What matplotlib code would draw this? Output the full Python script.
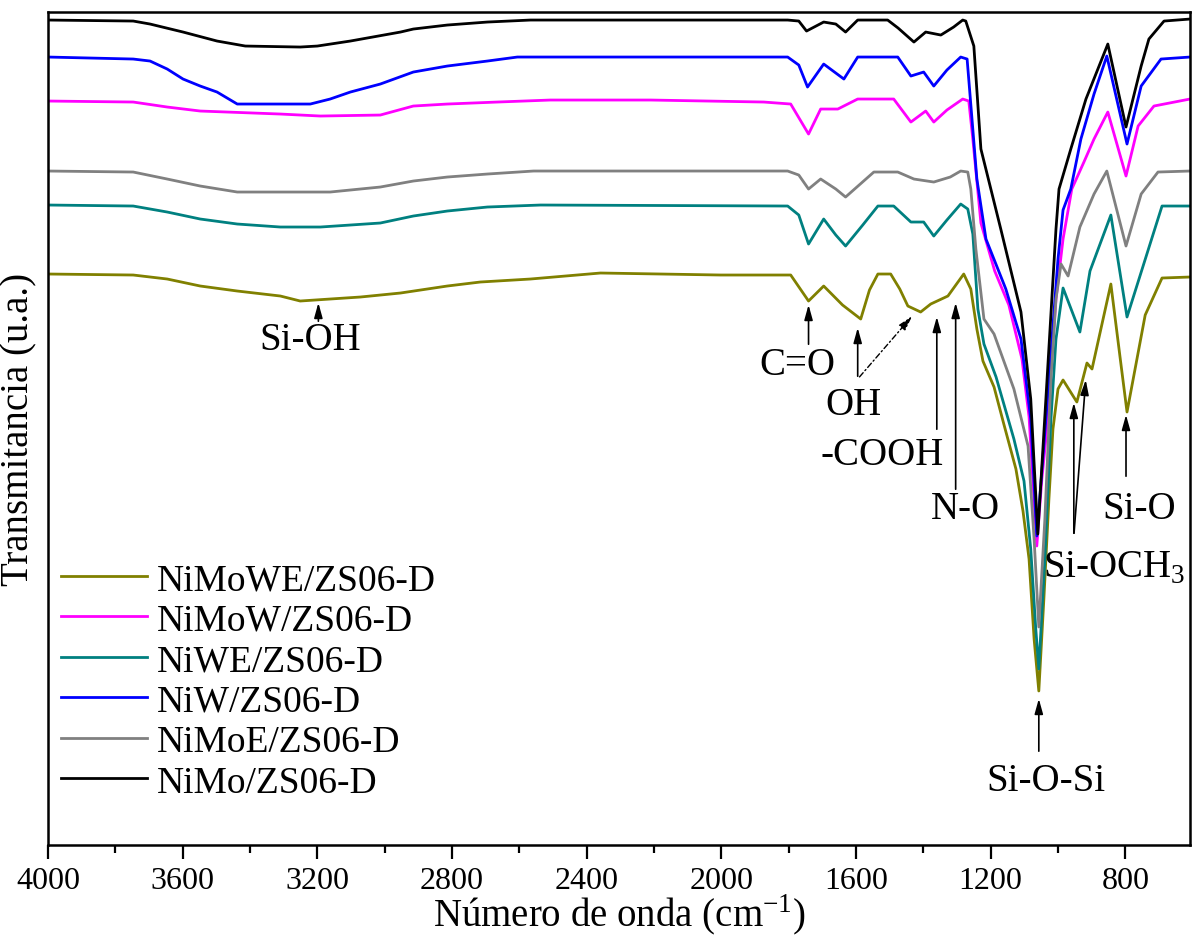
import matplotlib
matplotlib.use("Agg")
import matplotlib.pyplot as plt
from matplotlib.ticker import MultipleLocator

plt.rcParams['font.family'] = ['Liberation Serif', 'DejaVu Serif']
plt.rcParams['mathtext.fontset'] = 'custom'
plt.rcParams['mathtext.rm'] = 'Liberation Serif'

# FTIR spectra, wavenumber (cm-1) vs transmittance (offset, a.u.)
wn_nimowe = [4000, 3747, 3646, 3548, 3438, 3310, 3251, 3162, 3072, 2953, 2814, 2716, 2567, 2359, 2002,
             1794, 1741, 1696, 1640, 1586, 1560, 1535, 1497, 1470, 1446, 1408, 1378, 1327, 1280, 1259,
             1241, 1223, 1190, 1161, 1125, 1104, 1086, 1071, 1057, 1042, 1027, 1015, 1000, 985, 944,
             914, 899, 843, 815, 795, 741, 691, 608]
t_nimowe = [571, 570, 566, 559, 554, 549, 544, 546, 548, 552, 559, 563, 566, 572, 570,
            570, 544, 559, 540, 526, 555, 571, 571, 556, 539, 533, 541, 549, 571, 556,
            516, 484, 458, 421, 376, 334, 286, 206, 154, 246, 346, 416, 456, 465, 443,
            482, 476, 561, 486, 433, 530, 567, 568]

wn_nimow = [4000, 3747, 3646, 3548, 3310, 3191, 3013, 2915, 2814, 2665, 2508, 2210, 1874, 1794, 1741,
            1705, 1654, 1595, 1488, 1437, 1393, 1369, 1330, 1283, 1265, 1253, 1229, 1188, 1146, 1107,
            1086, 1075, 1063, 1048, 1036, 1006, 985, 959, 923, 893, 852, 798, 762, 715, 608]
t_nimow = [744, 743, 738, 734, 731, 729, 730, 739, 741, 743, 745, 745, 743, 741, 711,
           736, 736, 746, 746, 723, 734, 723, 735, 746, 744, 706, 622, 574, 540, 486,
           428, 366, 299, 366, 406, 546, 606, 656, 683, 706, 733, 669, 719, 739, 746]

wn_niwe = [4000, 3747, 3646, 3548, 3438, 3310, 3191, 3013, 2915, 2814, 2695, 2537, 1803, 1770, 1741,
           1696, 1660, 1631, 1580, 1535, 1488, 1437, 1399, 1369, 1330, 1289, 1268, 1253, 1238, 1220,
           1184, 1131, 1101, 1081, 1066, 1057, 1039, 1021, 1006, 985, 935, 905, 843, 795, 691, 608]
t_niwe = [640, 639, 633, 626, 621, 618, 618, 622, 629, 634, 638, 640, 639, 630, 601,
          626, 610, 599, 620, 639, 639, 623, 623, 609, 625, 641, 636, 611, 536, 501,
          468, 406, 364, 296, 216, 176, 286, 426, 506, 557, 513, 574, 630, 528, 639, 639]

wn_niw = [4000, 3747, 3697, 3646, 3599, 3548, 3498, 3438, 3221, 3162, 3102, 3013, 2915, 2814, 2695,
          2606, 1803, 1770, 1744, 1696, 1660, 1636, 1595, 1476, 1437, 1399, 1369, 1330, 1289, 1270,
          1241, 1214, 1155, 1110, 1081, 1063, 1036, 1000, 985, 962, 932, 893, 855, 795, 753, 694, 608]
t_niw = [788, 786, 784, 776, 766, 759, 753, 741, 741, 746, 753, 761, 773, 779, 784,
         788, 788, 780, 758, 781, 772, 766, 788, 788, 769, 773, 759, 775, 788, 786,
         666, 606, 556, 506, 426, 309, 426, 586, 635, 656, 706, 751, 789, 701, 759, 786, 788]

wn_nimoe = [4000, 3747, 3646, 3548, 3438, 3162, 3013, 2915, 2814, 2695, 2558, 1803, 1770, 1741, 1705,
            1660, 1631, 1547, 1476, 1428, 1369, 1320, 1289, 1268, 1259, 1244, 1220, 1190, 1131, 1089,
            1071, 1057, 1039, 1021, 1006, 991, 970, 935, 893, 855, 798, 753, 703, 608]
t_nimoe = [674, 673, 666, 659, 653, 653, 658, 664, 668, 671, 674, 674, 670, 656, 666,
           656, 648, 673, 673, 666, 663, 668, 674, 673, 656, 596, 526, 511, 456, 399,
           306, 218, 326, 466, 546, 581, 569, 618, 651, 674, 599, 651, 673, 674]

wn_nimo = [4000, 3747, 3697, 3599, 3498, 3414, 3251, 3200, 3102, 2953, 2915, 2814, 2695, 2567, 1803,
           1770, 1747, 1696, 1660, 1631, 1595, 1506, 1475, 1428, 1393, 1348, 1310, 1283, 1274, 1250,
           1229, 1170, 1110, 1081, 1060, 1036, 1006, 997, 962, 917, 852, 798, 753, 730, 685, 608]
t_nimo = [825, 824, 821, 813, 804, 799, 798, 799, 804, 813, 816, 820, 823, 825, 825,
          824, 814, 823, 821, 813, 825, 825, 817, 803, 813, 810, 818, 825, 824, 799,
          696, 616, 533, 446, 311, 446, 616, 656, 696, 746, 801, 718, 779, 806, 824, 826]

series = [
    ("NiMoWE/ZS06-D", wn_nimowe, t_nimowe, "#808000"),
    ("NiMoW/ZS06-D", wn_nimow, t_nimow, "#FF00FF"),
    ("NiWE/ZS06-D", wn_niwe, t_niwe, "#008080"),
    ("NiW/ZS06-D", wn_niw, t_niw, "#0000FF"),
    ("NiMoE/ZS06-D", wn_nimoe, t_nimoe, "#808080"),
    ("NiMo/ZS06-D", wn_nimo, t_nimo, "#000000"),
]

fig = plt.figure(figsize=(11.98, 9.45), dpi=100)
ax = fig.add_axes([0.0401, 0.1048, 0.9532, 0.8814])

for name, wn, t, color in series:
    ax.plot(wn, t, color=color, lw=2.0, label=name)

ax.set_xlim(4000, 608)
ax.set_ylim(0, 833)
ax.xaxis.set_major_locator(MultipleLocator(400))
ax.xaxis.set_minor_locator(MultipleLocator(200))
ax.tick_params(axis='x', which='major', direction='out', length=10, width=1.6, labelsize=23, pad=5)
ax.tick_params(axis='x', which='minor', direction='out', length=6, width=1.6)
ax.set_yticks([])
for sp in ax.spines.values():
    sp.set_linewidth(1.8)

ax.set_xlabel('Número de onda (cm$^{\\mathrm{-1}}$)', fontsize=28, labelpad=-2)
ax.set_ylabel('Transmitancia (u.a.)', fontsize=28, labelpad=8)

# band assignments: (text, text x, text y, [(tail, tip), ...])
arrow_kw = dict(arrowstyle='-|>,head_length=0.9,head_width=0.25', color='black', lw=1.2)
labels = [
    ("Si-OH", 3220, 506, [((3197, 521), (3197, 545))]),
    ("C=O", 1773, 481, [((1741, 498), (1741, 543))]),
    ("OH", 1607, 441, [((1595, 466), (1595, 520))]),
    ("-COOH", 1521, 391, [((1360, 413), (1360, 531))]),
    ("N-O", 1274, 336, [((1304, 353), (1304, 545))]),
    ("Si-O", 759, 336, [((798, 366), (798, 433))]),
    ("Si-OCH$_{\\mathrm{3}}$", 834, 278, [((953, 309), (953, 445)), ((953, 309), (917, 468))]),
    ("Si-O-Si", 1036, 64, [((1057, 91), (1057, 149))]),
]
for txt, tx, ty, arrows in labels:
    ax.text(tx, ty, txt, fontsize=28, ha='center', va='center')
    for tail, tip in arrows:
        ax.annotate('', xy=tip, xytext=tail, arrowprops=arrow_kw)

# dashed arrow from OH label to the 1430 band
ax.annotate('', xy=(1428, 531), xytext=(1595, 466),
            arrowprops=dict(arrowstyle='-|>,head_length=0.9,head_width=0.25', color='black',
                            lw=1.0, linestyle=(0, (4, 2, 1, 2))))

ax.legend(loc='upper left', bbox_to_anchor=(-0.002, 0.357), frameon=False, fontsize=27,
          handlelength=2.3, handletextpad=0.25, labelspacing=0.16, borderaxespad=0)

fig.savefig('out.png', dpi=100)
